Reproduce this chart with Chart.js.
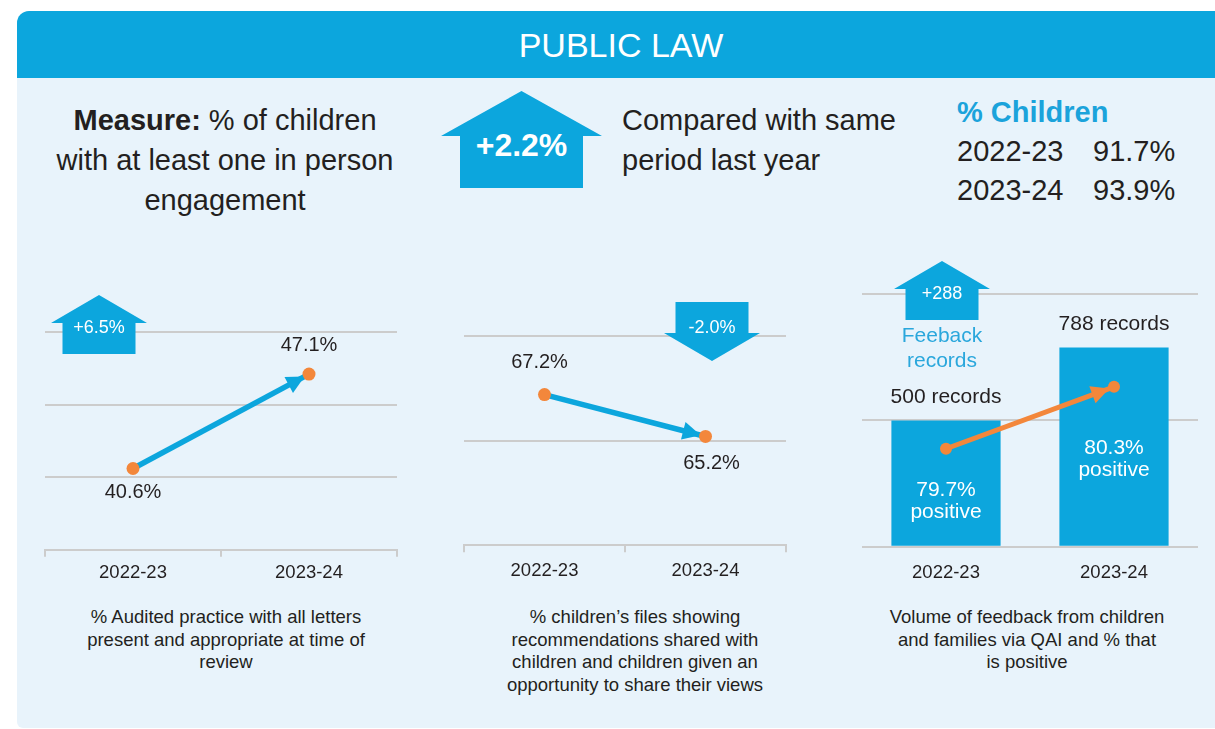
<!DOCTYPE html>
<html>
<head>
<meta charset="utf-8">
<title>Public Law</title>
<script src="https://cdn.jsdelivr.net/npm/chart.js@4.4.0/dist/chart.umd.min.js"></script>
<style>
  body { margin: 0; width: 1215px; height: 729px; background: #fff; overflow: hidden; position: relative;
         font-family: 'Liberation Sans', Arial, sans-serif; color: #231f20; }
  .card { position: absolute; left: 17px; top: 11px; width: 1220px; height: 717px; background: #e8f3fb;
          border-radius: 12px 0 0 6px; overflow: hidden; }
  .card .head { position: absolute; left: 0; top: 0; right: 0; height: 67px; background: #0ca6dd; }
  .t { position: absolute; white-space: nowrap; }
  .title { left: 421px; width: 400px; top: 25px; text-align: center; color: #fff; font-size: 34px; line-height: 40px; }
  .measure { left: 25px; width: 400px; top: 100px; text-align: center; font-size: 29px; line-height: 40px; }
  .bigArrow { position: absolute; left: 441px; top: 91px; width: 161px; height: 97px; background: #0ca6dd;
              clip-path: polygon(80.5px 0, 161px 45px, 142px 45px, 142px 97px, 19px 97px, 19px 45px, 0 45px); }
  .bigArrowText { left: 441px; width: 161px; top: 125px; text-align: center; color: #fff; font-weight: bold;
                  font-size: 32px; line-height: 40px; }
  .compared { left: 622px; top: 100px; font-size: 29px; line-height: 40px; }
  .pcHead { left: 957px; top: 93px; font-size: 29px; line-height: 38px; font-weight: bold; color: #1ba3db; }
  .row { font-size: 29px; line-height: 38px; }
  .cap { width: 400px; top: 606px; text-align: center; font-size: 18.5px; line-height: 22.5px; }
  .chartBox { position: absolute; }
</style>
</head>
<body>
<div class="card"><div class="head"></div></div>

<div class="t title">PUBLIC LAW</div>
<div class="t measure"><b>Measure:</b> % of children<br>with at least one in person<br>engagement</div>
<div class="bigArrow"></div>
<div class="t bigArrowText" id="bigChange"></div>
<div class="t compared">Compared with same<br>period last year</div>
<div class="t pcHead">% Children</div>
<div id="pcRows"></div>

<div class="chartBox" style="left:30px;top:250px;width:390px;height:340px"><canvas id="letters"></canvas></div>
<div class="chartBox" style="left:450px;top:250px;width:350px;height:340px"><canvas id="views"></canvas></div>
<div class="chartBox" style="left:850px;top:240px;width:365px;height:362px"><canvas id="feedback"></canvas></div>

<div class="t cap" style="left:26px">% Audited practice with all letters<br>present and appropriate at time of<br>review</div>
<div class="t cap" style="left:435px">% children’s files showing<br>recommendations shared with<br>children and children given an<br>opportunity to share their views</div>
<div class="t cap" style="left:827px">Volume of feedback from children<br>and families via QAI and % that<br>is positive</div>

<script>
// periods shown on every x axis
const periods = ['2022-23', '2023-24'];

// headline: % children with at least one in person engagement
const childrenPct = [91.7, 93.9];

// % audited practice with all letters present
const lettersPct = [40.6, 47.1];

// % files with recommendations shared / views
const viewsPct = [67.2, 65.2];

// feedback volume and % positive
const feedbackRecords = [500, 788];
const positivePct = [79.7, 80.3];

const BLUE = '#0ca6dd';
const ORANGE = '#f3873b';
const GRID = '#cccccc';
const INK = '#231f20';
const FONT = "'Liberation Sans', Arial, sans-serif";

Chart.defaults.font.family = FONT;
Chart.defaults.color = INK;

function pctChange(arr) {
  const d = arr[1] - arr[0];
  return (d >= 0 ? '+' : '') + d.toFixed(1) + '%';
}

// top block
document.getElementById('bigChange').textContent = pctChange(childrenPct);
let rowsHtml = '';
periods.forEach(function (p, i) {
  const top = 132 + i * 39;
  rowsHtml += '<div class="t row" style="left:957px;top:' + top + 'px">' + p + '</div>';
  rowsHtml += '<div class="t row" style="left:1093px;top:' + top + 'px">' + childrenPct[i].toFixed(1) + '%</div>';
});
document.getElementById('pcRows').innerHTML = rowsHtml;

// small arrow with text in it
function badge(ctx, cx, y, up, text) {
  const hw = 48, sw = 36.5, hh = up ? 28 : 31, h = 59;
  ctx.save();
  ctx.beginPath();
  if (up) {
    ctx.moveTo(cx, y);
    ctx.lineTo(cx + hw, y + hh); ctx.lineTo(cx + sw, y + hh); ctx.lineTo(cx + sw, y + h);
    ctx.lineTo(cx - sw, y + h); ctx.lineTo(cx - sw, y + hh); ctx.lineTo(cx - hw, y + hh);
  } else {
    ctx.moveTo(cx - sw, y); ctx.lineTo(cx + sw, y); ctx.lineTo(cx + sw, y + hh);
    ctx.lineTo(cx + hw, y + hh); ctx.lineTo(cx, y + h); ctx.lineTo(cx - hw, y + hh);
    ctx.lineTo(cx - sw, y + hh);
  }
  ctx.closePath();
  ctx.fillStyle = BLUE;
  ctx.fill();
  ctx.fillStyle = '#fff';
  ctx.font = '18px ' + FONT;
  ctx.textAlign = 'center';
  ctx.textBaseline = 'middle';
  ctx.fillText(text, cx, y + (up ? 33 : 26));
  ctx.restore();
}

// arrow head just short of the second point
function arrowHead(ctx, a, b, color) {
  const dx = b.x - a.x, dy = b.y - a.y, d = Math.hypot(dx, dy);
  const ux = dx / d, uy = dy / d;
  const tx = b.x - ux * 5, ty = b.y - uy * 5;
  const bx = tx - ux * 18, by = ty - uy * 18;
  ctx.save();
  ctx.beginPath();
  ctx.moveTo(tx, ty);
  ctx.lineTo(bx - uy * 9, by + ux * 9);
  ctx.lineTo(bx + uy * 9, by - ux * 9);
  ctx.closePath();
  ctx.fillStyle = color;
  ctx.fill();
  ctx.restore();
}

const arrowPlugin = {
  id: 'lineArrow',
  beforeDatasetDraw(chart, args) {
    if (args.meta.type !== 'line') return;
    const pts = args.meta.data;
    arrowHead(chart.ctx, pts[0], pts[1], args.meta.dataset.options.borderColor);
  }
};

function text(ctx, str, x, y, size, color) {
  ctx.save();
  ctx.font = size + 'px ' + FONT;
  ctx.fillStyle = color || INK;
  ctx.textAlign = 'center';
  ctx.textBaseline = 'middle';
  ctx.fillText(str, x, y);
  ctx.restore();
}

function lineChart(id, values, yMin, yMax, pad, tickPad, labelDy, labelDx, badgeAt) {
  return new Chart(document.getElementById(id), {
    type: 'line',
    data: {
      labels: periods,
      datasets: [{
        data: values,
        borderColor: BLUE,
        borderWidth: 5.5,
        pointRadius: 6.5,
        pointBackgroundColor: ORANGE,
        pointBorderColor: ORANGE,
        pointBorderWidth: 0,
        tension: 0
      }]
    },
    options: {
      responsive: true,
      maintainAspectRatio: false,
      animation: false,
      events: [],
      layout: { padding: pad },
      plugins: { legend: { display: false }, tooltip: { enabled: false } },
      scales: {
        x: {
          offset: true,
          grid: { offset: true, drawOnChartArea: false, drawTicks: true, tickLength: 7, color: GRID, lineWidth: 2 },
          border: { display: true, color: GRID, width: 2 },
          ticks: { padding: tickPad, color: INK, font: { size: 18.5 } }
        },
        y: {
          min: yMin, max: yMax,
          ticks: { display: false, stepSize: 5 },
          grid: { color: GRID, lineWidth: 2, drawTicks: false },
          border: { display: false }
        }
      }
    },
    plugins: [arrowPlugin, {
      id: 'labels',
      afterDraw(chart) {
        const ctx = chart.ctx;
        const pts = chart.getDatasetMeta(0).data;
        pts.forEach(function (p, i) {
          text(ctx, values[i].toFixed(1) + '%', p.x + labelDx[i], p.y + labelDy[i], 20);
        });
        badge(ctx, badgeAt[0], badgeAt[1], values[1] >= values[0], pctChange(values));
      }
    }]
  });
}

lineChart('letters', lettersPct, 35, 50,
  { left: 15, right: 23, top: 82, bottom: 1 }, 5, [24, -29], [0, 0], [69, 45]);

lineChart('views', viewsPct, 60, 70,
  { left: 14, right: 14, top: 86, bottom: 0.5 }, 7.5, [-32, 27], [-5, 6], [262, 52]);

// feedback volume bars with % positive line on its own axis
new Chart(document.getElementById('feedback'), {
  type: 'bar',
  data: {
    labels: periods,
    datasets: [{
      type: 'line',
      data: positivePct,
      yAxisID: 'y2',
      order: 0,
      borderColor: ORANGE,
      borderWidth: 5,
      pointRadius: 6,
      pointBackgroundColor: ORANGE,
      pointBorderColor: ORANGE,
      pointBorderWidth: 0
    }, {
      data: feedbackRecords,
      yAxisID: 'y',
      order: 1,
      backgroundColor: BLUE,
      borderWidth: 0,
      barPercentage: 1,
      categoryPercentage: 0.65
    }]
  },
  options: {
    responsive: true,
    maintainAspectRatio: false,
    animation: false,
    events: [],
    layout: { padding: { left: 12, right: 17, top: 54, bottom: 3 } },
    plugins: { legend: { display: false }, tooltip: { enabled: false } },
    scales: {
      x: {
        grid: { display: false, drawTicks: false },
        border: { display: false },
        ticks: { padding: 15, color: INK, font: { size: 18.5 } }
      },
      y: {
        min: 0, max: 1000,
        ticks: { display: false, stepSize: 500 },
        grid: { color: GRID, lineWidth: 2, drawTicks: false },
        border: { display: false }
      },
      y2: { display: false, min: 78.75, max: 81.2 }
    }
  },
  plugins: [arrowPlugin, {
    id: 'feedbackLabels',
    afterDraw(chart) {
      const ctx = chart.ctx;
      const bars = chart.getDatasetMeta(1).data;
      const pts = chart.getDatasetMeta(0).data;
      const posDy = [41, 61];
      bars.forEach(function (b, i) {
        text(ctx, feedbackRecords[i] + ' records', b.x, b.y - 23, 21);
        text(ctx, positivePct[i].toFixed(1) + '%', pts[i].x, pts[i].y + posDy[i], 21, '#fff');
        text(ctx, 'positive', pts[i].x, pts[i].y + posDy[i] + 22, 21, '#fff');
      });
      const d = feedbackRecords[1] - feedbackRecords[0];
      badge(ctx, 92, 21, d >= 0, (d >= 0 ? '+' : '') + d);
      text(ctx, 'Feeback', 92, 96, 21, '#2aa7dc');
      text(ctx, 'records', 92, 121, 21, '#2aa7dc');
    }
  }]
});
</script>
</body>
</html>
